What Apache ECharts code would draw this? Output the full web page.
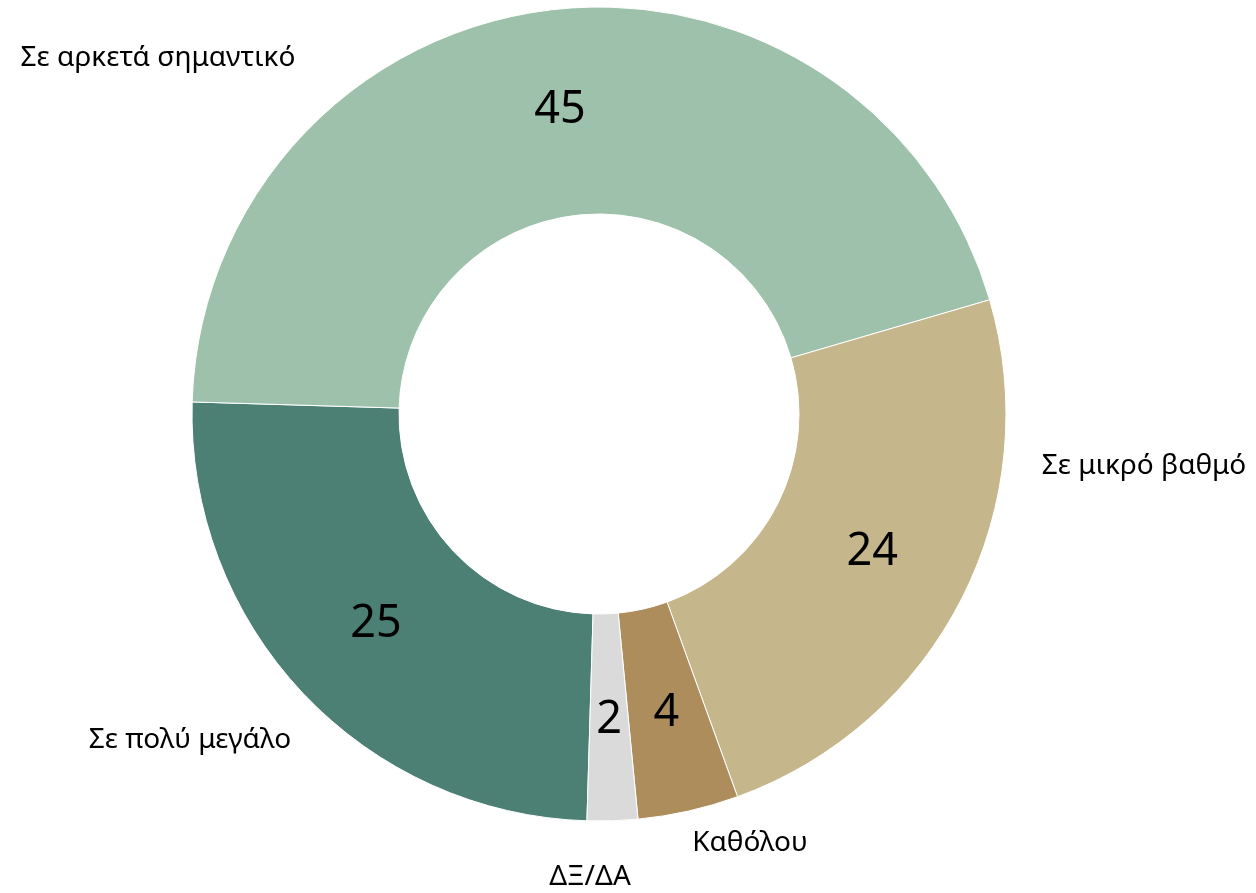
<!DOCTYPE html>
<html>
<head>
<meta charset="utf-8">
<script src="https://cdn.jsdelivr.net/npm/echarts@6/dist/echarts.min.js"></script>
<style>
  html, body { margin: 0; padding: 0; background: #fff; }
  #chart { width: 1256px; height: 893px; }
</style>
</head>
<body>
<div id="chart"></div>
<script>
const categories = ["Σε πολύ μεγάλο", "Σε αρκετά σημαντικό", "Σε μικρό βαθμό", "Καθόλου", "ΔΞ/ΔΑ"];
const values = [25, 45, 24, 4, 2];
const colors = ["#4d8075", "#9dc1ab", "#c5b78b", "#ae8d5d", "#dadada"];

// where the category names sit (excel put them by hand)
const namePos = [
  [190, 740],
  [158, 58],
  [1144, 466],
  [750, 843],
  [590, 877]
];

const chart = echarts.init(document.getElementById("chart"));

const pieData = values.map((v, i) => ({
  name: categories[i],
  value: v,
  itemStyle: { color: colors[i] }
}));

const base = {
  type: "pie",
  center: [599, 414],
  radius: [200, 407],
  startAngle: 268.3,
  clockwise: true,
  silent: true,
  animation: false
};

chart.setOption({
  series: [
    Object.assign({}, base, {
      data: pieData,
      itemStyle: { borderColor: "#fff", borderWidth: 1 },
      label: {
        show: true,
        position: "inside",
        formatter: "{c}",
        color: "#000",
        fontSize: 45,
        fontFamily: "Noto Sans"
      },
      labelLine: { show: false }
    }),
    Object.assign({}, base, {
      data: pieData.map(d => ({ name: d.name, value: d.value })),
      itemStyle: { color: "transparent" },
      label: {
        show: true,
        position: "outside",
        formatter: "{b}",
        color: "#000",
        fontSize: 28,
        fontFamily: "Noto Sans"
      },
      labelLine: { show: false },
      labelLayout: function (params) {
        const p = namePos[params.dataIndex];
        return { x: p[0], y: p[1], align: "center", verticalAlign: "middle" };
      }
    })
  ]
});
</script>
</body>
</html>
